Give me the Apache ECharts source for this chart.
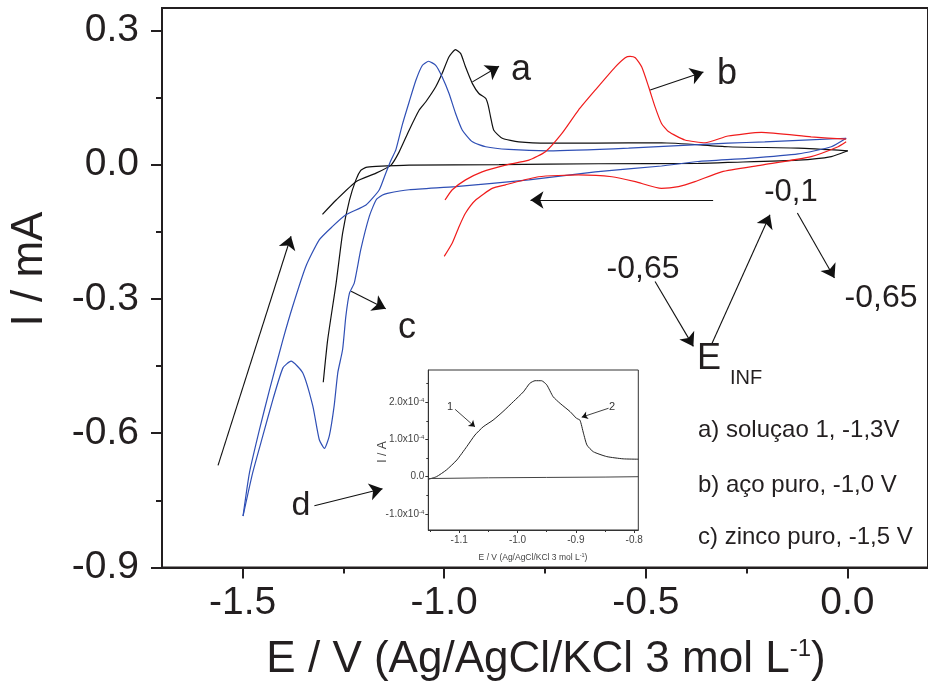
<!DOCTYPE html>
<html><head><meta charset="utf-8">
<script src="https://cdn.jsdelivr.net/npm/echarts@6/dist/echarts.min.js"></script>
<style>html,body{margin:0;padding:0;background:#fff}#c{width:928px;height:686px}</style>
</head><body><div id="c"></div><script>
// ---------- data (E / V, I / mA) ----------
const mainXTicks = [-1.5, -1.0, -0.5, 0.0];
const mainXMinor = [-1.25, -0.75, -0.25];
const mainYTicks = [-0.9, -0.6, -0.3, 0.0, 0.3];
const mainYMinor = [-0.75, -0.45, -0.15, 0.15];

const blackCathodic = [[0.001,0.031],[-0.040,0.018],[-0.122,0.010],[-0.296,0.005],[-0.370,0.003],[-0.617,0.002],[-0.864,0.000],[-1.087,-0.001],[-1.169,-0.004],[-1.194,-0.006],[-1.207,-0.013],[-1.219,-0.034],[-1.235,-0.079],[-1.252,-0.153],[-1.268,-0.264],[-1.289,-0.391],[-1.300,-0.486]];
const blackAnodic = [[-1.302,-0.111],[-1.268,-0.079],[-1.219,-0.038],[-1.169,-0.019],[-1.132,-0.001],[-1.112,0.028],[-1.087,0.077],[-1.062,0.122],[-1.046,0.140],[-1.021,0.174],[-1.005,0.204],[-0.988,0.241],[-0.972,0.257],[-0.959,0.248],[-0.947,0.218],[-0.930,0.181],[-0.914,0.159],[-0.897,0.148],[-0.891,0.133],[-0.885,0.107],[-0.877,0.077],[-0.856,0.059],[-0.815,0.051],[-0.741,0.048],[-0.625,0.048],[-0.461,0.049],[-0.296,0.040],[-0.122,0.037],[0.001,0.031]];
const blueCathodic = [[-0.003,0.059],[-0.040,0.040],[-0.122,0.024],[-0.246,0.014],[-0.370,0.007],[-0.461,-0.003],[-0.625,-0.016],[-0.790,-0.034],[-0.972,-0.049],[-1.087,-0.056],[-1.141,-0.064],[-1.153,-0.068],[-1.169,-0.079],[-1.186,-0.116],[-1.207,-0.190],[-1.223,-0.264],[-1.235,-0.287],[-1.244,-0.339],[-1.252,-0.413],[-1.264,-0.465],[-1.273,-0.539],[-1.285,-0.606],[-1.297,-0.634],[-1.310,-0.614],[-1.326,-0.539],[-1.351,-0.465],[-1.380,-0.439],[-1.400,-0.454],[-1.425,-0.525],[-1.450,-0.606],[-1.475,-0.688],[-1.499,-0.785]];
const blueAnodic = [[-1.499,-0.785],[-1.483,-0.688],[-1.458,-0.591],[-1.433,-0.502],[-1.400,-0.391],[-1.376,-0.317],[-1.343,-0.227],[-1.310,-0.168],[-1.277,-0.138],[-1.244,-0.112],[-1.194,-0.090],[-1.161,-0.056],[-1.145,-0.019],[-1.132,0.010],[-1.120,0.033],[-1.104,0.089],[-1.087,0.140],[-1.070,0.189],[-1.054,0.222],[-1.039,0.231],[-1.021,0.222],[-1.005,0.196],[-0.988,0.159],[-0.972,0.115],[-0.955,0.077],[-0.930,0.051],[-0.897,0.040],[-0.840,0.034],[-0.741,0.031],[-0.543,0.037],[-0.296,0.048],[-0.205,0.051],[-0.003,0.059]];
const redCathodic = [[-0.003,0.051],[-0.023,0.040],[-0.090,0.018],[-0.213,-0.001],[-0.312,-0.016],[-0.378,-0.038],[-0.419,-0.049],[-0.461,-0.053],[-0.526,-0.038],[-0.584,-0.027],[-0.667,-0.023],[-0.766,-0.027],[-0.848,-0.045],[-0.881,-0.053],[-0.922,-0.079],[-0.947,-0.108],[-0.963,-0.138],[-0.980,-0.175],[-1.000,-0.205]];
const redAnodic = [[-0.998,-0.079],[-0.980,-0.056],[-0.947,-0.034],[-0.906,-0.016],[-0.848,-0.001],[-0.790,0.010],[-0.749,0.029],[-0.708,0.070],[-0.667,0.122],[-0.625,0.167],[-0.576,0.218],[-0.551,0.239],[-0.539,0.242],[-0.526,0.239],[-0.510,0.218],[-0.493,0.174],[-0.477,0.129],[-0.461,0.092],[-0.444,0.074],[-0.403,0.055],[-0.353,0.049],[-0.296,0.064],[-0.213,0.072],[-0.090,0.062],[-0.003,0.057]];

// annotation arrows, data coords [from, to]
const mainArrows = [
  [[-0.930,0.185],[-0.864,0.220]],
  [[-0.489,0.167],[-0.357,0.207]],
  [[-1.231,-0.283],[-1.145,-0.322]],
  [[-1.322,-0.762],[-1.153,-0.724]],
  [[-1.561,-0.672],[-1.380,-0.160]],
  [[-0.333,-0.079],[-0.786,-0.079]],
  [[-0.337,-0.402],[-0.192,-0.112]],
  [[-0.124,-0.108],[-0.032,-0.253]],
  [[-0.477,-0.261],[-0.382,-0.406]]
];

// inset (E / V, I / A)
const insetXTicks = [-1.1, -1.0, -0.9, -0.8];
const insetXMinor = [-1.15, -1.05, -0.95, -0.85];
const insetYTicks = [-1.0e-4, 0, 1.0e-4, 2.0e-4];
const insetYMinor = [-0.5e-4, 0.5e-4, 1.5e-4, 2.5e-4];
const insetUpper = [[-1.153,-0.07e-4],[-1.139,0],[-1.122,0.18e-4],[-1.104,0.45e-4],[-1.087,0.81e-4],[-1.073,1.12e-4],[-1.059,1.34e-4],[-1.042,1.52e-4],[-1.025,1.75e-4],[-1.007,2.02e-4],[-0.990,2.28e-4],[-0.979,2.51e-4],[-0.970,2.58e-4],[-0.959,2.58e-4],[-0.950,2.47e-4],[-0.939,2.15e-4],[-0.927,1.97e-4],[-0.910,1.75e-4],[-0.899,1.57e-4],[-0.893,1.52e-4],[-0.887,1.17e-4],[-0.881,0.85e-4],[-0.870,0.67e-4],[-0.847,0.54e-4],[-0.819,0.48e-4],[-0.793,0.47e-4]];
const insetLower = [[-1.153,-0.05e-4],[-1.05,-0.03e-4],[-0.95,-0.02e-4],[-0.85,-0.01e-4],[-0.793,0]];
const insetArrows = [
  [[-1.107,1.81e-4],[-1.073,1.34e-4]],
  [[-0.844,1.84e-4],[-0.890,1.60e-4]]
];

// ---------- chart ----------
const FONT = 'Liberation Sans';
const INK = '#231f20';
const chart = echarts.init(document.getElementById('c'), null, {renderer: 'canvas'});

function majorAxis(extra) {
  return Object.assign({
    type: 'value', splitLine: {show: false},
    axisLine: {show: true, onZero: false, lineStyle: {color: INK, width: 2}},
  }, extra);
}
function minorAxis(extra) {
  return Object.assign({
    type: 'value', splitLine: {show: false},
    axisLine: {show: false, onZero: false},
    axisLabel: {show: false},
  }, extra);
}
function arrowLines(list) {
  return list.map(a => [{coord: a[0]}, {coord: a[1]}]);
}
const arrowMark = (list, size, width) => ({
  silent: true, animation: false,
  symbol: ['none', 'arrow'], symbolSize: size,
  label: {show: false}, emphasis: {disabled: true},
  lineStyle: {color: '#111', width: width, type: 'solid'},
  itemStyle: {color: '#111'},
  data: arrowLines(list)
});
const lineS = (data, color, extra) => Object.assign({
  type: 'line', data: data, symbol: 'none', smooth: 0.18,
  lineStyle: {color: color, width: 1.2}, silent: true, z: 3
}, extra);

const insetLabelRich = {s: {fontSize: 6, verticalAlign: 'top', color: '#444', fontFamily: FONT, padding: [0,0,4,0]}};

const option = {
  animation: false,
  backgroundColor: '#fff',
  grid: [
    {left: 162, top: 8, width: 768, height: 559.5, show: true, borderColor: INK, borderWidth: 2, backgroundColor: 'transparent'},
    {left: 428.3, top: 370, width: 210, height: 160, show: true, borderColor: '#333', borderWidth: 1, backgroundColor: '#fff', z: 5}
  ],
  xAxis: [
    majorAxis({gridIndex: 0, min: -1.7, max: 0.2, position: 'bottom',
      axisTick: {show: true, length: 11, lineStyle: {color: INK, width: 2}, customValues: mainXTicks},
      axisLabel: {customValues: mainXTicks, formatter: v => v.toFixed(1), fontFamily: FONT, fontSize: 39, color: INK, margin: 16}}),
    minorAxis({gridIndex: 0, min: -1.7, max: 0.2, position: 'bottom',
      axisTick: {show: true, length: 6, lineStyle: {color: INK, width: 2}, customValues: mainXMinor}}),
    {type: 'value', gridIndex: 1, min: -1.153, max: -0.793, position: 'bottom', splitLine: {show: false}, z: 6,
      axisLine: {show: true, onZero: false, lineStyle: {color: '#333', width: 1}},
      axisTick: {show: true, length: 3, lineStyle: {color: '#333'}, customValues: insetXTicks},
      axisLabel: {customValues: insetXTicks, formatter: v => v.toFixed(1), fontFamily: FONT, fontSize: 10, color: '#444', margin: 5}},
    {type: 'value', gridIndex: 1, min: -1.153, max: -0.793, position: 'bottom', splitLine: {show: false}, z: 6,
      axisLine: {show: false, onZero: false}, axisLabel: {show: false},
      axisTick: {show: true, length: 2, lineStyle: {color: '#333'}, customValues: insetXMinor}}
  ],
  yAxis: [
    majorAxis({gridIndex: 0, min: -0.9, max: 0.35, position: 'left',
      axisTick: {show: true, length: 11, lineStyle: {color: INK, width: 2}, customValues: mainYTicks},
      axisLabel: {customValues: mainYTicks, formatter: v => v.toFixed(1), fontFamily: FONT, fontSize: 39, color: INK, margin: 23}}),
    minorAxis({gridIndex: 0, min: -0.9, max: 0.35, position: 'left',
      axisTick: {show: true, length: 6, lineStyle: {color: INK, width: 2}, customValues: mainYMinor}}),
    {type: 'value', gridIndex: 1, min: -1.433e-4, max: 2.868e-4, position: 'left', splitLine: {show: false}, z: 6,
      axisLine: {show: true, onZero: false, lineStyle: {color: '#333', width: 1}},
      axisTick: {show: true, length: 3, lineStyle: {color: '#333'}, customValues: insetYTicks},
      axisLabel: {customValues: insetYTicks, fontFamily: FONT, fontSize: 10, color: '#444', margin: 4,
        formatter: v => Math.abs(v) < 1e-9 ? '0.0' : (v * 1e4).toFixed(1) + 'x10{s|-4}', rich: insetLabelRich}},
    {type: 'value', gridIndex: 1, min: -1.433e-4, max: 2.868e-4, position: 'left', splitLine: {show: false}, z: 6,
      axisLine: {show: false, onZero: false}, axisLabel: {show: false},
      axisTick: {show: true, length: 2, lineStyle: {color: '#333'}, customValues: insetYMinor}}
  ],
  series: [
    lineS(blackCathodic, '#111', {xAxisIndex: 0, yAxisIndex: 0, markLine: arrowMark(mainArrows, 13, 1.1)}),
    lineS(blackAnodic, '#111', {xAxisIndex: 0, yAxisIndex: 0}),
    lineS(blueCathodic, '#2f4fb5', {xAxisIndex: 0, yAxisIndex: 0}),
    lineS(blueAnodic, '#2f4fb5', {xAxisIndex: 0, yAxisIndex: 0}),
    lineS(redCathodic, '#f01c1c', {xAxisIndex: 0, yAxisIndex: 0}),
    lineS(redAnodic, '#f01c1c', {xAxisIndex: 0, yAxisIndex: 0}),
    lineS(insetUpper, '#222', {xAxisIndex: 2, yAxisIndex: 2, z: 7, lineStyle: {color: '#222', width: 1},
      markLine: arrowMark(insetArrows, 6, 0.8)}),
    lineS(insetLower, '#444', {xAxisIndex: 2, yAxisIndex: 2, z: 7, smooth: false, lineStyle: {color: '#444', width: 1}})
  ],
  graphic: [
    // axis titles
    {type: 'text', x: 30, y: 269, rotation: Math.PI / 2, z: 10,
      style: {text: 'I / mA', fontFamily: FONT, fontSize: 44, fill: INK, align: 'center', verticalAlign: 'middle'}},
    {type: 'text', x: 546, y: 660, z: 10,
      style: {text: 'E / V (Ag/AgCl/KCl 3 mol L{sup|-1})', fontFamily: FONT, fontSize: 44, fill: INK, align: 'center', verticalAlign: 'middle',
        rich: {sup: {fontFamily: FONT, fontSize: 24, fill: INK, verticalAlign: 'top', padding: [0, 0, 22, 0]}}}},
    // curve labels
    {type: 'text', x: 521, y: 70, z: 10, style: {text: 'a', fontFamily: FONT, fontSize: 36, fill: INK, align: 'center', verticalAlign: 'middle'}},
    {type: 'text', x: 727, y: 74, z: 10, style: {text: 'b', fontFamily: FONT, fontSize: 36, fill: INK, align: 'center', verticalAlign: 'middle'}},
    {type: 'text', x: 407, y: 328, z: 10, style: {text: 'c', fontFamily: FONT, fontSize: 36, fill: INK, align: 'center', verticalAlign: 'middle'}},
    {type: 'text', x: 301, y: 506, z: 10, style: {text: 'd', fontFamily: FONT, fontSize: 34, fill: INK, align: 'center', verticalAlign: 'middle'}},
    // potential program
    {type: 'text', x: 791, y: 192, z: 10, style: {text: '-0,1', fontFamily: FONT, fontSize: 31, fill: INK, align: 'center', verticalAlign: 'middle'}},
    {type: 'text', x: 643, y: 269, z: 10, style: {text: '-0,65', fontFamily: FONT, fontSize: 32, fill: INK, align: 'center', verticalAlign: 'middle'}},
    {type: 'text', x: 881, y: 298, z: 10, style: {text: '-0,65', fontFamily: FONT, fontSize: 32, fill: INK, align: 'center', verticalAlign: 'middle'}},
    {type: 'text', x: 709, y: 359, z: 10, style: {text: 'E', fontFamily: FONT, fontSize: 36, fill: INK, align: 'center', verticalAlign: 'middle'}},
    {type: 'text', x: 746, y: 378, z: 10, style: {text: 'INF', fontFamily: FONT, fontSize: 20, fill: INK, align: 'center', verticalAlign: 'middle'}},
    // legend
    {type: 'text', x: 698, y: 430, z: 10, style: {text: 'a) soluçao 1, -1,3V', fontFamily: FONT, fontSize: 24, fill: INK, align: 'left', verticalAlign: 'middle'}},
    {type: 'text', x: 698, y: 485, z: 10, style: {text: 'b) aço puro, -1,0 V', fontFamily: FONT, fontSize: 24, fill: INK, align: 'left', verticalAlign: 'middle'}},
    {type: 'text', x: 698, y: 537, z: 10, style: {text: 'c) zinco puro, -1,5 V', fontFamily: FONT, fontSize: 24, fill: INK, align: 'left', verticalAlign: 'middle'}},
    // inset texts
    {type: 'text', x: 383, y: 452, rotation: Math.PI / 2, z: 10,
      style: {text: 'I / A', fontFamily: FONT, fontSize: 12, fill: '#444', align: 'center', verticalAlign: 'middle'}},
    {type: 'text', x: 533, y: 557.5, z: 10,
      style: {text: 'E / V (Ag/AgCl/KCl 3 mol L{s|-1})', fontFamily: FONT, fontSize: 8.5, fill: '#444', align: 'center', verticalAlign: 'middle',
        rich: {s: {fontFamily: FONT, fontSize: 5.5, fill: '#444', verticalAlign: 'top', padding: [0, 0, 4, 0]}}}},
    {type: 'text', x: 450, y: 406.7, z: 10, style: {text: '1', fontFamily: FONT, fontSize: 11, fill: '#333', align: 'center', verticalAlign: 'middle'}},
    {type: 'text', x: 612, y: 406.7, z: 10, style: {text: '2', fontFamily: FONT, fontSize: 11, fill: '#333', align: 'center', verticalAlign: 'middle'}}
  ]
};
chart.setOption(option);
</script></body></html>
